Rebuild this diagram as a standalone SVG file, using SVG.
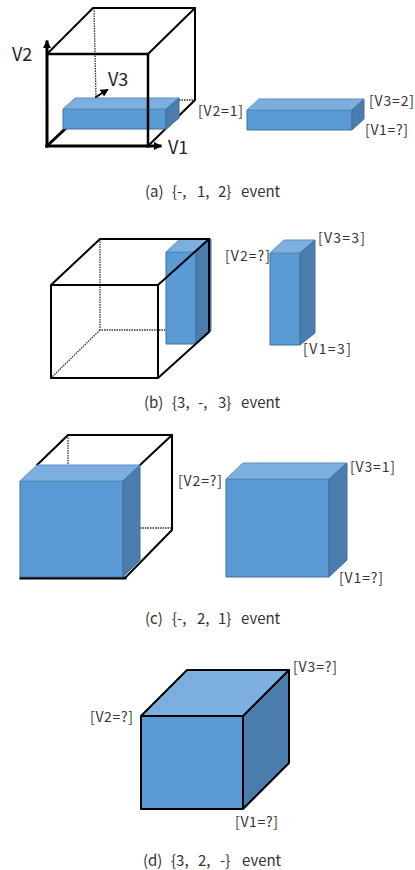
<svg xmlns="http://www.w3.org/2000/svg" width="415" height="870" viewBox="0 0 415 870">
<style>
text{font-family:"Noto Sans CJK KR","Noto Sans",sans-serif;fill:#333}
.l{font-size:14px}
.c{font-size:15px}
.a{font-size:18px;fill:#222}
.f{fill:#5b9bd5;stroke:#41719c;stroke-width:1}
.t{fill:#7cafde;stroke:#5b8fbf;stroke-width:1}
.s{fill:#4a7dad;stroke:#41719c;stroke-width:1}
.w{fill:none;stroke:#000;stroke-width:2;stroke-linecap:round;stroke-linejoin:round}
.n{fill:none;stroke:#000;stroke-width:2.5;stroke-linecap:round}
.h{fill:none;stroke:#000;stroke-width:3;stroke-linecap:square}
.d{fill:none;stroke:#333;stroke-width:1.3;stroke-dasharray:1.5 1}
</style>
<defs>
<marker id="ah" markerWidth="10" markerHeight="10" refX="6" refY="4" orient="auto" markerUnits="userSpaceOnUse"><path d="M0 0L8 4L0 8Z" fill="#000"/></marker>
</defs>
<g id="connectors">
<path class="d" d="M94 8L96 98"/>
<path class="d" d="M179 100H195"/>
<path class="w" d="M47 54L93 8H195L148 54"/>
<path class="w" d="M195 8V100L148 146"/>
<path class="h" d="M47 146L65 129"/>
<path class="d" d="M100 239V330H166M100 330L51 378"/>
<path class="d" d="M68 435V465M140 528H172"/>
</g>
<g id="box-a-wire">
<path class="n" d="M47 54H148"/>
</g>
<g id="box-a-solid">
<path class="f" d="M63 109H166V129H63Z"/>
<path class="t" d="M63 109L75 98H179L166 109Z"/>
<path class="s" d="M166 109L179 98V118L166 129Z"/>
</g>
<g id="box-a-front">
<path class="n" d="M148 54V146"/>
<path class="h" d="M47 146H148"/>
<path class="h" d="M47 146V42" marker-end="url(#ah)"/>
<path class="h" d="M148 146H160" marker-end="url(#ah)"/>
<path class="w" d="M96 97L107 90" marker-end="url(#ah)"/>
</g>
<g id="box-a-result">
<path class="f" d="M247 110H352V130H247Z"/>
<path class="t" d="M247 110L259 99H364L352 110Z"/>
<path class="s" d="M352 110L364 99V119L352 130Z"/>
</g>
<g id="box-b-solid">
<path class="f" d="M166 252H196V344H166Z"/>
<path class="t" d="M166 252L180 239H209L196 252Z"/>
<path class="s" d="M196 252L209 239H211V331L196 344Z"/>
</g>
<g id="box-b-wire">
<path class="w" d="M51 285H158V378H51ZM51 285L100 239H209V332L158 378M158 285L209 239"/>
</g>
<g id="box-b-result">
<path class="f" d="M270 253H300V345H270Z"/>
<path class="t" d="M270 253L284 240H315L300 253Z"/>
<path class="s" d="M300 253L315 240V333L300 345Z"/>
</g>
<g id="box-c-wire">
<path class="w" d="M37 465L68 435H172V530L125 578M140 465L172 435"/>
<path class="h" d="M21 578H125"/>
</g>
<g id="box-c-solid">
<path class="f" d="M20 481H123V577H20Z"/>
<path class="t" d="M20 481L37 465H140L123 481Z"/>
<path class="s" d="M123 481L140 465V560L123 577Z"/>
</g>
<g id="box-c-result">
<path class="f" d="M226 479H329V577H226Z"/>
<path class="t" d="M226 479L243 463H347L329 479Z"/>
<path class="s" d="M329 479L347 463V560L329 577Z"/>
</g>
<g id="box-d">
<path class="f" style="stroke:none" d="M141 716H243V809H141Z"/>
<path class="t" style="stroke:none" d="M141 716L187 670H289L243 716Z"/>
<path class="s" style="stroke:none" d="M243 716L289 670V763L243 809Z"/>
<path class="w" d="M141 716H243V809H141ZM141 716L187 670H289V763L243 809M243 716L289 670"/>
</g>
<g id="labels">
<text class="a" x="12" y="61">V2</text>
<text class="a" x="108" y="86">V3</text>
<text class="a" x="168" y="154">V1</text>
<text class="l" x="198" y="116" textLength="45">[V2=1]</text>
<text class="l" x="369" y="106" textLength="45">[V3=2]</text>
<text class="l" x="365" y="135" textLength="43">[V1=?]</text>
<text class="l" x="318" y="243" textLength="47">[V3=3]</text>
<text class="l" x="225" y="261" textLength="45">[V2=?]</text>
<text class="l" x="303" y="354" textLength="48">[V1=3]</text>
<text class="l" x="178" y="486" textLength="44">[V2=?]</text>
<text class="l" x="350" y="472" textLength="45">[V3=1]</text>
<text class="l" x="339" y="583" textLength="44">[V1=?]</text>
<text class="l" x="293" y="672" textLength="44">[V3=?]</text>
<text class="l" x="90" y="722" textLength="43">[V2=?]</text>
<text class="l" x="235" y="827" textLength="43">[V1=?]</text>
<text class="c" y="197"><tspan x="145">(a)</tspan> <tspan x="172">{-,</tspan> <tspan x="197">1,</tspan> <tspan x="218">2}</tspan> <tspan x="241">event</tspan></text>
<text class="c" y="408"><tspan x="144">(b)</tspan> <tspan x="172">{3,</tspan> <tspan x="198">-,</tspan> <tspan x="218">3}</tspan> <tspan x="241">event</tspan></text>
<text class="c" y="624"><tspan x="145">(c)</tspan> <tspan x="172">{-,</tspan> <tspan x="197">2,</tspan> <tspan x="218">1}</tspan> <tspan x="241">event</tspan></text>
<text class="c" y="866"><tspan x="143">(d)</tspan> <tspan x="171">{3,</tspan> <tspan x="198">2,</tspan> <tspan x="220">-}</tspan> <tspan x="242">event</tspan></text>
</g>
</svg>
